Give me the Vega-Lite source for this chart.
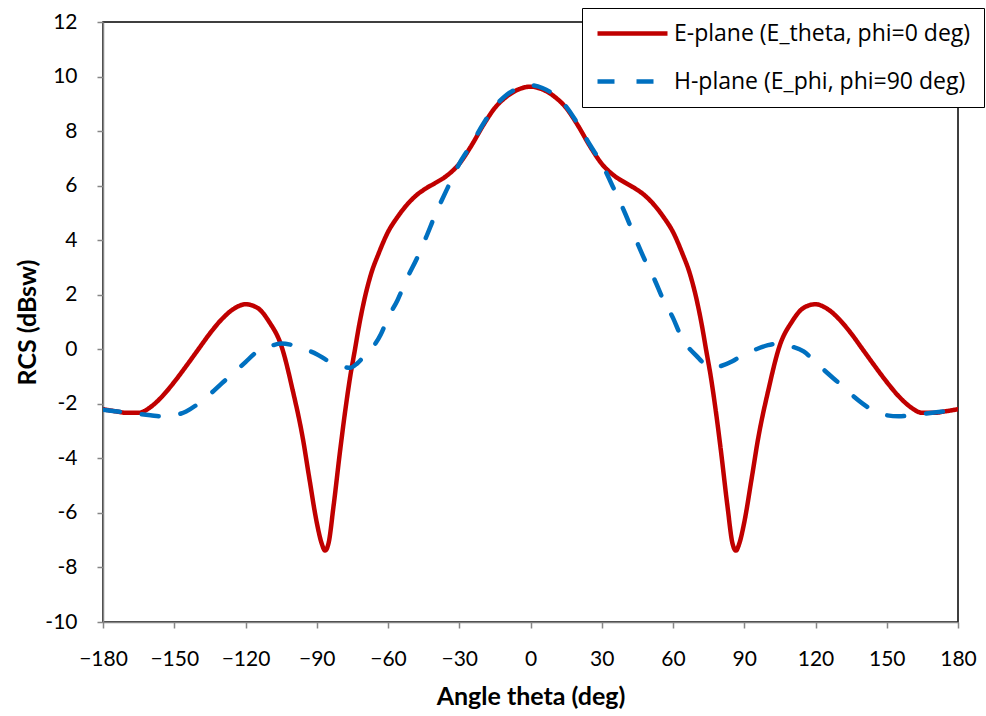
{
  "$schema": "https://vega.github.io/schema/vega-lite/v6.json",
  "width": 855,
  "height": 600,
  "autosize": {"type": "none"},
  "padding": {"left": 103, "top": 22, "right": 28, "bottom": 94},
  "background": "white",
  "config": {
    "view": {"stroke": "black", "strokeWidth": 1.5},
    "font": "Lato",
    "axis": {
      "grid": false,
      "domainColor": "#868686",
      "domainWidth": 1.5,
      "tickColor": "#868686",
      "tickWidth": 1.5,
      "tickSize": 6,
      "labelFont": "Lato",
      "labelFontSize": 21,
      "labelColor": "black",
      "labelPadding": 20,
      "labelOverlap": false,
      "labelFlush": false,
      "titleFont": "Lato",
      "titleFontSize": 25,
      "titleFontWeight": "bold",
      "titleColor": "black"
    }
  },
  "data": {
    "values": [
      {"s": "E", "t": -180, "v": -2.2},
      {"s": "E", "t": -175, "v": -2.27},
      {"s": "E", "t": -170, "v": -2.33},
      {"s": "E", "t": -165, "v": -2.33},
      {"s": "E", "t": -160, "v": -2.12},
      {"s": "E", "t": -155, "v": -1.72},
      {"s": "E", "t": -150, "v": -1.2},
      {"s": "E", "t": -145, "v": -0.62},
      {"s": "E", "t": -140, "v": -0.02},
      {"s": "E", "t": -135, "v": 0.58},
      {"s": "E", "t": -130, "v": 1.1},
      {"s": "E", "t": -125, "v": 1.48},
      {"s": "E", "t": -120, "v": 1.65},
      {"s": "E", "t": -115, "v": 1.52},
      {"s": "E", "t": -110, "v": 1.0},
      {"s": "E", "t": -105, "v": 0.15},
      {"s": "E", "t": -100, "v": -1.55},
      {"s": "E", "t": -96, "v": -3.2},
      {"s": "E", "t": -93, "v": -4.8},
      {"s": "E", "t": -90, "v": -6.35},
      {"s": "E", "t": -88, "v": -7.1},
      {"s": "E", "t": -86.5, "v": -7.38},
      {"s": "E", "t": -85, "v": -7.1},
      {"s": "E", "t": -83, "v": -5.8},
      {"s": "E", "t": -80, "v": -3.6},
      {"s": "E", "t": -78, "v": -2.25},
      {"s": "E", "t": -76, "v": -1.05},
      {"s": "E", "t": -74, "v": -0.05},
      {"s": "E", "t": -72, "v": 0.95},
      {"s": "E", "t": -70, "v": 1.8},
      {"s": "E", "t": -67, "v": 2.8},
      {"s": "E", "t": -64, "v": 3.5},
      {"s": "E", "t": -60, "v": 4.3},
      {"s": "E", "t": -56, "v": 4.85},
      {"s": "E", "t": -52, "v": 5.3},
      {"s": "E", "t": -48, "v": 5.65},
      {"s": "E", "t": -44, "v": 5.9},
      {"s": "E", "t": -40, "v": 6.1},
      {"s": "E", "t": -35, "v": 6.38},
      {"s": "E", "t": -30, "v": 6.8},
      {"s": "E", "t": -25, "v": 7.45},
      {"s": "E", "t": -20, "v": 8.2},
      {"s": "E", "t": -15, "v": 8.85},
      {"s": "E", "t": -10, "v": 9.27},
      {"s": "E", "t": -5, "v": 9.53},
      {"s": "E", "t": 0, "v": 9.63},
      {"s": "E", "t": 5, "v": 9.53},
      {"s": "E", "t": 10, "v": 9.27},
      {"s": "E", "t": 15, "v": 8.85},
      {"s": "E", "t": 20, "v": 8.2},
      {"s": "E", "t": 25, "v": 7.45},
      {"s": "E", "t": 30, "v": 6.8},
      {"s": "E", "t": 35, "v": 6.38},
      {"s": "E", "t": 40, "v": 6.1},
      {"s": "E", "t": 44, "v": 5.9},
      {"s": "E", "t": 48, "v": 5.65},
      {"s": "E", "t": 52, "v": 5.3},
      {"s": "E", "t": 56, "v": 4.85},
      {"s": "E", "t": 60, "v": 4.3},
      {"s": "E", "t": 64, "v": 3.5},
      {"s": "E", "t": 67, "v": 2.8},
      {"s": "E", "t": 70, "v": 1.8},
      {"s": "E", "t": 72, "v": 0.95},
      {"s": "E", "t": 74, "v": -0.05},
      {"s": "E", "t": 76, "v": -1.05},
      {"s": "E", "t": 78, "v": -2.25},
      {"s": "E", "t": 80, "v": -3.6},
      {"s": "E", "t": 83, "v": -5.8},
      {"s": "E", "t": 85, "v": -7.1},
      {"s": "E", "t": 86.5, "v": -7.38},
      {"s": "E", "t": 88, "v": -7.1},
      {"s": "E", "t": 90, "v": -6.35},
      {"s": "E", "t": 93, "v": -4.8},
      {"s": "E", "t": 96, "v": -3.2},
      {"s": "E", "t": 100, "v": -1.55},
      {"s": "E", "t": 105, "v": 0.15},
      {"s": "E", "t": 110, "v": 1.0},
      {"s": "E", "t": 115, "v": 1.52},
      {"s": "E", "t": 120, "v": 1.65},
      {"s": "E", "t": 125, "v": 1.48},
      {"s": "E", "t": 130, "v": 1.1},
      {"s": "E", "t": 135, "v": 0.58},
      {"s": "E", "t": 140, "v": -0.02},
      {"s": "E", "t": 145, "v": -0.62},
      {"s": "E", "t": 150, "v": -1.2},
      {"s": "E", "t": 155, "v": -1.72},
      {"s": "E", "t": 160, "v": -2.12},
      {"s": "E", "t": 165, "v": -2.33},
      {"s": "E", "t": 170, "v": -2.33},
      {"s": "E", "t": 175, "v": -2.27},
      {"s": "E", "t": 180, "v": -2.2},
      {"s": "H", "t": -180, "v": -2.22},
      {"s": "H", "t": -170, "v": -2.32},
      {"s": "H", "t": -160, "v": -2.42},
      {"s": "H", "t": -155, "v": -2.46},
      {"s": "H", "t": -150, "v": -2.42},
      {"s": "H", "t": -145, "v": -2.28},
      {"s": "H", "t": -140, "v": -2.0},
      {"s": "H", "t": -135, "v": -1.65},
      {"s": "H", "t": -130, "v": -1.25},
      {"s": "H", "t": -125, "v": -0.87},
      {"s": "H", "t": -120, "v": -0.47},
      {"s": "H", "t": -115, "v": -0.08},
      {"s": "H", "t": -110, "v": 0.1},
      {"s": "H", "t": -105, "v": 0.21},
      {"s": "H", "t": -100, "v": 0.15},
      {"s": "H", "t": -95, "v": 0.0},
      {"s": "H", "t": -90, "v": -0.18},
      {"s": "H", "t": -85, "v": -0.44},
      {"s": "H", "t": -80, "v": -0.62},
      {"s": "H", "t": -76, "v": -0.68},
      {"s": "H", "t": -73, "v": -0.52},
      {"s": "H", "t": -70, "v": -0.25},
      {"s": "H", "t": -66, "v": 0.12},
      {"s": "H", "t": -63, "v": 0.55},
      {"s": "H", "t": -60, "v": 1.15},
      {"s": "H", "t": -56, "v": 1.8},
      {"s": "H", "t": -52, "v": 2.6},
      {"s": "H", "t": -48, "v": 3.3},
      {"s": "H", "t": -44, "v": 4.1},
      {"s": "H", "t": -40, "v": 4.95},
      {"s": "H", "t": -35, "v": 5.9},
      {"s": "H", "t": -30, "v": 6.8},
      {"s": "H", "t": -25, "v": 7.5},
      {"s": "H", "t": -20, "v": 8.25},
      {"s": "H", "t": -15, "v": 8.9},
      {"s": "H", "t": -10, "v": 9.33},
      {"s": "H", "t": -5, "v": 9.58},
      {"s": "H", "t": 0, "v": 9.68},
      {"s": "H", "t": 5, "v": 9.58},
      {"s": "H", "t": 10, "v": 9.33},
      {"s": "H", "t": 15, "v": 8.9},
      {"s": "H", "t": 20, "v": 8.25},
      {"s": "H", "t": 25, "v": 7.5},
      {"s": "H", "t": 30, "v": 6.8},
      {"s": "H", "t": 35, "v": 5.9},
      {"s": "H", "t": 40, "v": 4.95},
      {"s": "H", "t": 44, "v": 4.1},
      {"s": "H", "t": 48, "v": 3.3},
      {"s": "H", "t": 52, "v": 2.6},
      {"s": "H", "t": 56, "v": 1.8},
      {"s": "H", "t": 60, "v": 1.15},
      {"s": "H", "t": 63, "v": 0.55},
      {"s": "H", "t": 66, "v": 0.12},
      {"s": "H", "t": 70, "v": -0.25},
      {"s": "H", "t": 73, "v": -0.52},
      {"s": "H", "t": 76, "v": -0.68},
      {"s": "H", "t": 80, "v": -0.62},
      {"s": "H", "t": 85, "v": -0.44},
      {"s": "H", "t": 90, "v": -0.18},
      {"s": "H", "t": 95, "v": 0.0},
      {"s": "H", "t": 100, "v": 0.15},
      {"s": "H", "t": 105, "v": 0.21},
      {"s": "H", "t": 110, "v": 0.1},
      {"s": "H", "t": 115, "v": -0.08},
      {"s": "H", "t": 120, "v": -0.47},
      {"s": "H", "t": 125, "v": -0.87},
      {"s": "H", "t": 130, "v": -1.25},
      {"s": "H", "t": 135, "v": -1.65},
      {"s": "H", "t": 140, "v": -2.0},
      {"s": "H", "t": 145, "v": -2.28},
      {"s": "H", "t": 150, "v": -2.42},
      {"s": "H", "t": 155, "v": -2.46},
      {"s": "H", "t": 160, "v": -2.42},
      {"s": "H", "t": 170, "v": -2.32},
      {"s": "H", "t": 180, "v": -2.22}
    ]
  },
  "mark": {"type": "line", "interpolate": "monotone", "strokeWidth": 4.5, "strokeCap": "round", "clip": true},
  "encoding": {
    "x": {
      "field": "t",
      "type": "quantitative",
      "scale": {"domain": [-180, 180], "nice": false},
      "axis": {
        "values": [-180, -150, -120, -90, -60, -30, 0, 30, 60, 90, 120, 150, 180],
        "title": "Angle theta (deg)",
        "titlePadding": 15
      }
    },
    "y": {
      "field": "v",
      "type": "quantitative",
      "scale": {"domain": [-10, 12], "nice": false},
      "axis": {
        "values": [-10, -8, -6, -4, -2, 0, 2, 4, 6, 8, 10, 12],
        "labelExpr": "datum.value < 0 ? '-' + abs(datum.value) : '' + datum.value",
        "title": "RCS (dBsw)",
        "titlePadding": 4
      }
    },
    "color": {
      "field": "s",
      "type": "nominal",
      "scale": {"domain": ["E", "H"], "range": ["#C00000", "#0070C0"]},
      "legend": {
        "title": null,
        "orient": "none",
        "legendX": 479,
        "legendY": -14,
        "padding": 13,
        "strokeColor": "black",
        "fillColor": "white",
        "symbolType": "M-1,0H6",
        "symbolSize": 400,
        "symbolStrokeWidth": 4.5,
        "labelOffset": 54,
        "labelFont": "Open Sans",
        "labelFontSize": 23,
        "labelColor": "black",
        "labelLimit": 500,
        "rowPadding": 23,
        "labelExpr": "datum.value == 'E' ? 'E-plane (E_theta, phi=0 deg)' : 'H-plane (E_phi, phi=90 deg)'"
      }
    },
    "strokeDash": {
      "field": "s",
      "type": "nominal",
      "scale": {"domain": ["E", "H"], "range": [[1, 0], [17, 22]]},
      "legend": {
        "title": null,
        "orient": "none",
        "legendX": 479,
        "legendY": -14,
        "padding": 13,
        "strokeColor": "black",
        "fillColor": "white",
        "symbolType": "M-1,0H6",
        "symbolSize": 400,
        "symbolStrokeWidth": 4.5,
        "labelOffset": 54,
        "labelFont": "Open Sans",
        "labelFontSize": 23,
        "labelColor": "black",
        "labelLimit": 500,
        "rowPadding": 23,
        "labelExpr": "datum.value == 'E' ? 'E-plane (E_theta, phi=0 deg)' : 'H-plane (E_phi, phi=90 deg)'"
      }
    }
  }
}
